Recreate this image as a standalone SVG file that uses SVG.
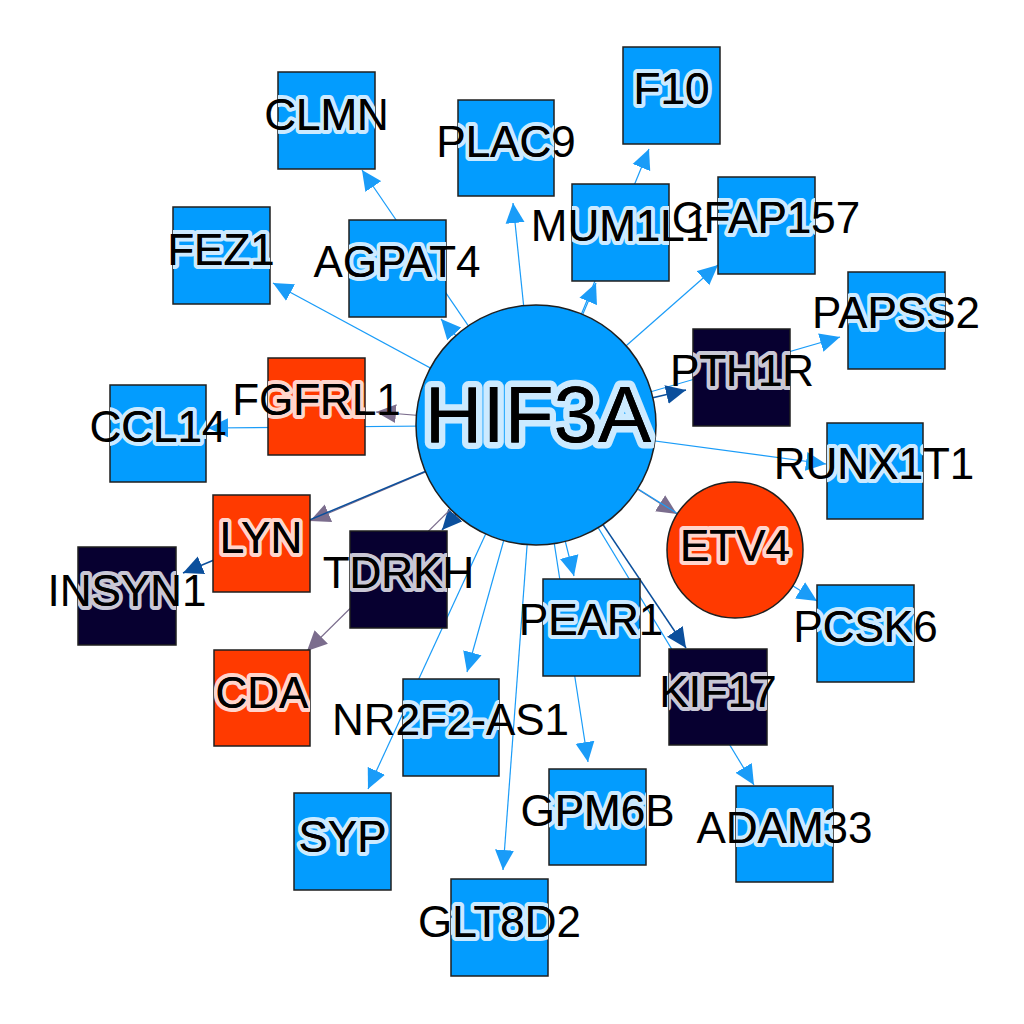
<svg xmlns="http://www.w3.org/2000/svg" width="1024" height="1024" viewBox="0 0 1024 1024">
<style>
.nb{fill:#039cfe;stroke:#1f1f1f;stroke-width:1.5}
.no{fill:#ff3a00;stroke:#1f1f1f;stroke-width:1.5}
.nd{fill:#070030;stroke:#1f1f1f;stroke-width:1.5}
.t{font-family:"Liberation Sans",Arial,sans-serif;font-size:44px;text-anchor:middle;fill:#000}
.big{font-size:80px}
.h{stroke-width:8;stroke-linejoin:round;paint-order:stroke}
.big.h{stroke-width:13}
.hb{stroke:#cceaff}.ho{stroke:#ffd5cc}.hd{stroke:#c9c7d5}
.e{fill:none;stroke-width:1.2}
.el{stroke:#1a9cf8;marker-end:url(#aL)}
.ed{stroke:#0b4f9c;stroke-width:1.5;marker-end:url(#aD)}
.ep{stroke:#7b6d8d;marker-end:url(#aP)}
</style>
<defs>
<marker id="aL" markerUnits="userSpaceOnUse" markerWidth="20" markerHeight="20" refX="20" refY="10" orient="auto" viewBox="0 0 20 20"><path d="M0,0.5 L20,10 L0,19.5z" fill="#1a9cf8"/></marker>
<marker id="aD" markerUnits="userSpaceOnUse" markerWidth="20" markerHeight="20" refX="20" refY="10" orient="auto" viewBox="0 0 20 20"><path d="M0,0.5 L20,10 L0,19.5z" fill="#0b4f9c"/></marker>
<marker id="aP" markerUnits="userSpaceOnUse" markerWidth="20" markerHeight="20" refX="20" refY="10" orient="auto" viewBox="0 0 20 20"><path d="M0,0.5 L20,10 L0,19.5z" fill="#7b6d8d"/></marker>
<clipPath id="c-HIF3A"><circle cx="536" cy="425" r="120"/></clipPath>
<clipPath id="c-ETV4"><circle cx="735" cy="550" r="68"/></clipPath>
<clipPath id="c-CLMN"><rect x="278" y="72" width="97" height="97"/></clipPath>
<clipPath id="c-F10"><rect x="623" y="47" width="97" height="97"/></clipPath>
<clipPath id="c-PLAC9"><rect x="458" y="100" width="96" height="96"/></clipPath>
<clipPath id="c-FEZ1"><rect x="173" y="207" width="97" height="97"/></clipPath>
<clipPath id="c-AGPAT4"><rect x="349" y="220" width="97" height="97"/></clipPath>
<clipPath id="c-MUM1L1"><rect x="572" y="184" width="97" height="97"/></clipPath>
<clipPath id="c-CFAP157"><rect x="718" y="177" width="97" height="97"/></clipPath>
<clipPath id="c-PAPSS2"><rect x="848" y="272" width="97" height="97"/></clipPath>
<clipPath id="c-PTH1R"><rect x="693" y="329" width="97" height="97"/></clipPath>
<clipPath id="c-FGFRL1"><rect x="268" y="358" width="97" height="97"/></clipPath>
<clipPath id="c-CCL14"><rect x="110" y="385" width="96" height="97"/></clipPath>
<clipPath id="c-RUNX1T1"><rect x="827" y="423" width="96" height="96"/></clipPath>
<clipPath id="c-LYN"><rect x="213" y="495" width="97" height="97"/></clipPath>
<clipPath id="c-TDRKH"><rect x="350" y="531" width="97" height="97"/></clipPath>
<clipPath id="c-INSYN1"><rect x="78" y="547" width="98" height="98"/></clipPath>
<clipPath id="c-PCSK6"><rect x="817" y="585" width="97" height="97"/></clipPath>
<clipPath id="c-PEAR1"><rect x="543" y="579" width="97" height="97"/></clipPath>
<clipPath id="c-CDA"><rect x="214" y="650" width="96" height="96"/></clipPath>
<clipPath id="c-KIF17"><rect x="669" y="649" width="98" height="96"/></clipPath>
<clipPath id="c-NR2F2-AS1"><rect x="403" y="679" width="96" height="97"/></clipPath>
<clipPath id="c-ADAM33"><rect x="736" y="786" width="97" height="96"/></clipPath>
<clipPath id="c-GPM6B"><rect x="549" y="769" width="97" height="96"/></clipPath>
<clipPath id="c-SYP"><rect x="294" y="793" width="97" height="97"/></clipPath>
<clipPath id="c-GLT8D2"><rect x="451" y="879" width="97" height="97"/></clipPath>
</defs>
<rect width="1024" height="1024" fill="#fff"/>
<g id="edges">
<line class="e el" x1="536" y1="425" x2="362" y2="170"/>
<line class="e el" x1="536" y1="425" x2="441" y2="319"/>
<line class="e el" x1="536" y1="425" x2="273" y2="283"/>
<line class="e el" x1="536" y1="425" x2="513" y2="203"/>
<line class="e el" x1="536" y1="425" x2="649" y2="149"/>
<line class="e el" x1="536" y1="425" x2="596" y2="283"/>
<line class="e el" x1="536" y1="425" x2="718" y2="265"/>
<line class="e el" x1="536" y1="425" x2="840" y2="337"/>
<line class="e ed" x1="536" y1="425" x2="686" y2="390"/>
<line class="e el" x1="536" y1="425" x2="826" y2="464"/>
<line class="e ep" x1="536" y1="425" x2="677" y2="514"/>
<line class="e el" x1="536" y1="425" x2="817" y2="601"/>
<line class="e ed" x1="536" y1="425" x2="686" y2="648"/>
<line class="e el" x1="536" y1="425" x2="754" y2="785"/>
<line class="e el" x1="536" y1="425" x2="588" y2="762"/>
<line class="e el" x1="536" y1="425" x2="574" y2="576"/>
<line class="e el" x1="536" y1="425" x2="503" y2="870"/>
<line class="e el" x1="536" y1="425" x2="467" y2="672"/>
<line class="e el" x1="536" y1="425" x2="368" y2="789"/>
<line class="e ed" x1="536" y1="425" x2="442" y2="530"/>
<line class="e ep" x1="536" y1="425" x2="307" y2="651"/>
<line class="e ep" x1="536" y1="425" x2="310" y2="521"/>
<line class="e ed" x1="536" y1="425" x2="183" y2="573"/>
<line class="e ep" x1="536" y1="425" x2="376" y2="412"/>
<line class="e el" x1="536" y1="425" x2="208" y2="428"/>
</g>
<g id="n-HIF3A"><circle class="nb" cx="536" cy="425" r="120"/><text class="t big h hb" clip-path="url(#c-HIF3A)" x="538" y="442">HIF3A</text><text class="t big" x="538" y="442">HIF3A</text></g>
<g id="n-ETV4"><circle class="no" cx="735" cy="550" r="68"/><text class="t h ho" clip-path="url(#c-ETV4)" x="735" y="561">ETV4</text><text class="t" x="735" y="561">ETV4</text></g>
<g id="n-CLMN"><rect class="nb" x="278" y="72" width="97" height="97"/><text class="t h hb" clip-path="url(#c-CLMN)" x="326.5" y="130">CLMN</text><text class="t" x="326.5" y="130">CLMN</text></g>
<g id="n-F10"><rect class="nb" x="623" y="47" width="97" height="97"/><text class="t h hb" clip-path="url(#c-F10)" x="671.5" y="104">F10</text><text class="t" x="671.5" y="104">F10</text></g>
<g id="n-PLAC9"><rect class="nb" x="458" y="100" width="96" height="96"/><text class="t h hb" clip-path="url(#c-PLAC9)" x="506" y="157">PLAC9</text><text class="t" x="506" y="157">PLAC9</text></g>
<g id="n-FEZ1"><rect class="nb" x="173" y="207" width="97" height="97"/><text class="t h hb" clip-path="url(#c-FEZ1)" x="221" y="265">FEZ1</text><text class="t" x="221" y="265">FEZ1</text></g>
<g id="n-AGPAT4"><rect class="nb" x="349" y="220" width="97" height="97"/><text class="t h hb" clip-path="url(#c-AGPAT4)" x="397" y="277">AGPAT4</text><text class="t" x="397" y="277">AGPAT4</text></g>
<g id="n-MUM1L1"><rect class="nb" x="572" y="184" width="97" height="97"/><text class="t h hb" clip-path="url(#c-MUM1L1)" x="620" y="241">MUM1L1</text><text class="t" x="620" y="241">MUM1L1</text></g>
<g id="n-CFAP157"><rect class="nb" x="718" y="177" width="97" height="97"/><text class="t h hb" clip-path="url(#c-CFAP157)" x="766" y="233">CFAP157</text><text class="t" x="766" y="233">CFAP157</text></g>
<g id="n-PAPSS2"><rect class="nb" x="848" y="272" width="97" height="97"/><text class="t h hb" clip-path="url(#c-PAPSS2)" x="896" y="328">PAPSS2</text><text class="t" x="896" y="328">PAPSS2</text></g>
<g id="n-PTH1R"><rect class="nd" x="693" y="329" width="97" height="97"/><text class="t h hd" clip-path="url(#c-PTH1R)" x="742" y="386">PTH1R</text><text class="t" x="742" y="386">PTH1R</text></g>
<g id="n-FGFRL1"><rect class="no" x="268" y="358" width="97" height="97"/><text class="t h ho" clip-path="url(#c-FGFRL1)" x="316.5" y="415">FGFRL1</text><text class="t" x="316.5" y="415">FGFRL1</text></g>
<g id="n-CCL14"><rect class="nb" x="110" y="385" width="96" height="97"/><text class="t h hb" clip-path="url(#c-CCL14)" x="158" y="442">CCL14</text><text class="t" x="158" y="442">CCL14</text></g>
<g id="n-RUNX1T1"><rect class="nb" x="827" y="423" width="96" height="96"/><text class="t h hb" clip-path="url(#c-RUNX1T1)" x="874" y="479">RUNX1T1</text><text class="t" x="874" y="479">RUNX1T1</text></g>
<g id="n-LYN"><rect class="no" x="213" y="495" width="97" height="97"/><text class="t h ho" clip-path="url(#c-LYN)" x="261" y="553">LYN</text><text class="t" x="261" y="553">LYN</text></g>
<g id="n-TDRKH"><rect class="nd" x="350" y="531" width="97" height="97"/><text class="t h hd" clip-path="url(#c-TDRKH)" x="398.5" y="588">TDRKH</text><text class="t" x="398.5" y="588">TDRKH</text></g>
<g id="n-INSYN1"><rect class="nd" x="78" y="547" width="98" height="98"/><text class="t h hd" clip-path="url(#c-INSYN1)" x="127" y="606">INSYN1</text><text class="t" x="127" y="606">INSYN1</text></g>
<g id="n-PCSK6"><rect class="nb" x="817" y="585" width="97" height="97"/><text class="t h hb" clip-path="url(#c-PCSK6)" x="865.5" y="642">PCSK6</text><text class="t" x="865.5" y="642">PCSK6</text></g>
<g id="n-PEAR1"><rect class="nb" x="543" y="579" width="97" height="97"/><text class="t h hb" clip-path="url(#c-PEAR1)" x="591" y="635">PEAR1</text><text class="t" x="591" y="635">PEAR1</text></g>
<g id="n-CDA"><rect class="no" x="214" y="650" width="96" height="96"/><text class="t h ho" clip-path="url(#c-CDA)" x="262" y="708">CDA</text><text class="t" x="262" y="708">CDA</text></g>
<g id="n-KIF17"><rect class="nd" x="669" y="649" width="98" height="96"/><text class="t h hd" clip-path="url(#c-KIF17)" x="718" y="707">KIF17</text><text class="t" x="718" y="707">KIF17</text></g>
<g id="n-NR2F2-AS1"><rect class="nb" x="403" y="679" width="96" height="97"/><text class="t h hb" clip-path="url(#c-NR2F2-AS1)" x="450.5" y="735">NR2F2-AS1</text><text class="t" x="450.5" y="735">NR2F2-AS1</text></g>
<g id="n-ADAM33"><rect class="nb" x="736" y="786" width="97" height="96"/><text class="t h hb" clip-path="url(#c-ADAM33)" x="784.5" y="843">ADAM33</text><text class="t" x="784.5" y="843">ADAM33</text></g>
<g id="n-GPM6B"><rect class="nb" x="549" y="769" width="97" height="96"/><text class="t h hb" clip-path="url(#c-GPM6B)" x="597.5" y="826">GPM6B</text><text class="t" x="597.5" y="826">GPM6B</text></g>
<g id="n-SYP"><rect class="nb" x="294" y="793" width="97" height="97"/><text class="t h hb" clip-path="url(#c-SYP)" x="342.5" y="852">SYP</text><text class="t" x="342.5" y="852">SYP</text></g>
<g id="n-GLT8D2"><rect class="nb" x="451" y="879" width="97" height="97"/><text class="t h hb" clip-path="url(#c-GLT8D2)" x="499.5" y="937">GLT8D2</text><text class="t" x="499.5" y="937">GLT8D2</text></g>
</svg>
